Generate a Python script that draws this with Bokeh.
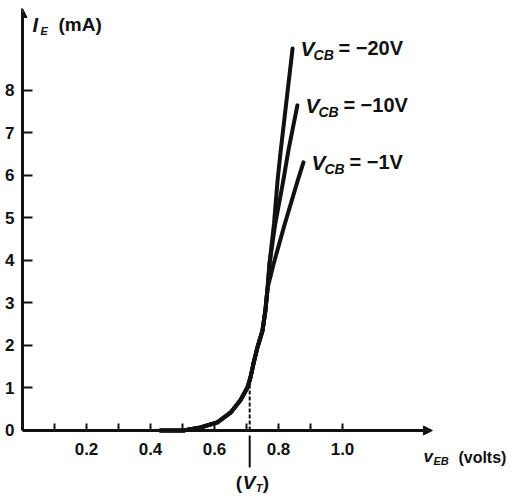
from bokeh.plotting import figure
from bokeh.models import ColumnDataSource, FixedTicker, Arrow, NormalHead, Range1d
from bokeh.core.properties import value
from bokeh.embed import file_html
from bokeh.resources import INLINE

# ---- data (v_EB in volts, I_E in mA) ----
common_v = [0.431, 0.503, 0.556, 0.609, 0.65, 0.681, 0.703, 0.7125, 0.722, 0.734, 0.75, 0.759, 0.766]
common_i = [0.0, 0.0, 0.07, 0.19, 0.42, 0.71, 1.01, 1.25, 1.58, 1.95, 2.35, 2.82, 3.36]

vcb20_v = [0.766, 0.772, 0.786, 0.797, 0.807, 0.825, 0.844]
vcb20_i = [3.36, 3.93, 4.87, 5.88, 6.59, 7.76, 8.99]
vcb10_v = [0.766, 0.772, 0.790, 0.815, 0.831, 0.859]
vcb10_i = [3.36, 3.93, 4.87, 5.88, 6.59, 7.65]
vcb1_v = [0.766, 0.785, 0.82, 0.86, 0.878]
vcb1_i = [3.36, 3.93, 4.87, 5.88, 6.31]

series_labels = ["= \u221220V", "= \u221210V", "= \u22121V"]

x_ticks = [0.2, 0.4, 0.6, 0.8, 1.0]
x_minor = [0.1, 0.3, 0.5, 0.7, 0.9]
x_tick_labels = ["0.2", "0.4", "0.6", "0.8", "1.0"]
y_ticks = [0, 1, 2, 3, 4, 5, 6, 7, 8]
y_tick_labels = ["0", "1", "2", "3", "4", "5", "6", "7", "8"]

VT = 0.71
X_MAX = 1.281
Y_MAX = 9.93

FONT = value("Liberation Sans")
INK = "#111111"

p = figure(width=515, height=497, x_range=Range1d(0, 1.540625),
           y_range=Range1d(-1.5765, 10.1176), min_border=0,
           min_border_left=22, toolbar_location=None, output_backend="svg")
p.outline_line_color = None
p.xgrid.visible = False
p.ygrid.visible = False
p.background_fill_color = "white"

# x axis, drawn at I = 0 inside the frame
xa = p.xaxis[0]
xa.fixed_location = 0
xa.ticker = FixedTicker(ticks=x_ticks, minor_ticks=x_minor)
xa.major_label_overrides = {t: s for t, s in zip(x_ticks, x_tick_labels)}
xa.axis_line_color = None
xa.major_tick_in = 7
xa.major_tick_out = 0
xa.minor_tick_in = 7
xa.minor_tick_out = 0
xa.major_tick_line_width = 2
xa.minor_tick_line_width = 2
xa.major_tick_line_color = INK
xa.minor_tick_line_color = INK
xa.major_label_standoff = 13
xa.major_label_text_font = "Liberation Sans"
xa.major_label_text_font_style = "bold"
xa.major_label_text_font_size = "17px"
xa.major_label_text_color = INK

# y axis on the left edge of the frame (v = 0)
ya = p.yaxis[0]
ya.ticker = FixedTicker(ticks=y_ticks)
ya.major_label_overrides = {t: s for t, s in zip(y_ticks, y_tick_labels)}
ya.bounds = (0, Y_MAX - 0.1)
ya.axis_line_color = INK
ya.axis_line_width = 3
ya.major_tick_in = 10
ya.major_tick_out = 0
ya.minor_tick_line_color = None
ya.major_tick_line_width = 2
ya.major_tick_line_color = INK
ya.major_label_standoff = 8
ya.major_label_text_font = "Liberation Sans"
ya.major_label_text_font_style = "bold"
ya.major_label_text_font_size = "17px"
ya.major_label_text_color = INK

# axis lines with arrow heads
for xs, ys, xe, ye in [(0, 0, X_MAX, 0), (0, 0, 0, Y_MAX)]:
    p.add_layout(Arrow(x_start=xs, y_start=ys, x_end=xe, y_end=ye,
                       line_width=3, line_color=INK,
                       end=NormalHead(size=9, fill_color=INK, line_color=INK)))

# V_T marker
p.line(x=[VT, VT], y=[0, 1.15], line_width=2, line_color=INK, line_dash="4 2")
p.line(x=[VT, VT], y=[-0.12, -0.87], line_width=2, line_color=INK)

# characteristic curves
for bv, bi in [(vcb20_v, vcb20_i), (vcb10_v, vcb10_i), (vcb1_v, vcb1_i)]:
    p.line(x=common_v + bv[1:], y=common_i + bi[1:], line_width=4,
           line_color=INK, line_join="round", line_cap="round")

# series labels at the ends of the branches
ends = ColumnDataSource(dict(
    x=[vcb20_v[-1], vcb10_v[-1], vcb1_v[-1]],
    y=[vcb20_i[-1], vcb10_i[-1], vcb1_i[-1]],
    v=["V", "V", "V"], sub=["CB", "CB", "CB"], rest=series_labels))
p.text(x="x", y="y", text="v", source=ends, x_offset=8, y_offset=0,
       text_font=FONT, text_font_style="bold italic", text_font_size="21px",
       text_baseline="middle", text_color=INK)
p.text(x="x", y="y", text="sub", source=ends, x_offset=21, y_offset=7,
       text_font=FONT, text_font_style="bold italic", text_font_size="14px",
       text_baseline="middle", text_color=INK)
p.text(x="x", y="y", text="rest", source=ends, x_offset=46, y_offset=0,
       text_font=FONT, text_font_style="bold", text_font_size="20px",
       text_baseline="middle", text_color=INK)

# axis titles
p.text(x=[0], y=[Y_MAX], text=["I"], x_offset=10, y_offset=17,
       text_font=FONT, text_font_style="bold italic", text_font_size="20px",
       text_baseline="middle", text_color=INK)
p.text(x=[0], y=[Y_MAX], text=["E"], x_offset=18, y_offset=23,
       text_font=FONT, text_font_style="bold italic", text_font_size="11px",
       text_baseline="middle", text_color=INK)
p.text(x=[0], y=[Y_MAX], text=["(mA)"], x_offset=36, y_offset=16,
       text_font=FONT, text_font_style="bold", text_font_size="19px",
       text_baseline="middle", text_color=INK)

p.text(x=[X_MAX], y=[0], text=["v"], x_offset=-9, y_offset=26,
       text_font=FONT, text_font_style="bold italic", text_font_size="17px",
       text_baseline="middle", text_color=INK)
p.text(x=[X_MAX], y=[0], text=["EB"], x_offset=1, y_offset=31,
       text_font=FONT, text_font_style="bold italic", text_font_size="11px",
       text_baseline="middle", text_color=INK)
p.text(x=[X_MAX], y=[0], text=["(volts)"], x_offset=26, y_offset=27,
       text_font=FONT, text_font_style="bold", text_font_size="16px",
       text_baseline="middle", text_color=INK)

p.text(x=[VT], y=[0], text=["("], x_offset=-14, y_offset=52,
       text_font=FONT, text_font_style="bold", text_font_size="19px",
       text_baseline="middle", text_color=INK)
p.text(x=[VT], y=[0], text=["V"], x_offset=-7, y_offset=52,
       text_font=FONT, text_font_style="bold italic", text_font_size="19px",
       text_baseline="middle", text_color=INK)
p.text(x=[VT], y=[0], text=["T"], x_offset=6, y_offset=58,
       text_font=FONT, text_font_style="bold italic", text_font_size="11px",
       text_baseline="middle", text_color=INK)
p.text(x=[VT], y=[0], text=[")"], x_offset=13, y_offset=52,
       text_font=FONT, text_font_style="bold", text_font_size="19px",
       text_baseline="middle", text_color=INK)

open("out.html", "w").write(file_html(p, INLINE))
